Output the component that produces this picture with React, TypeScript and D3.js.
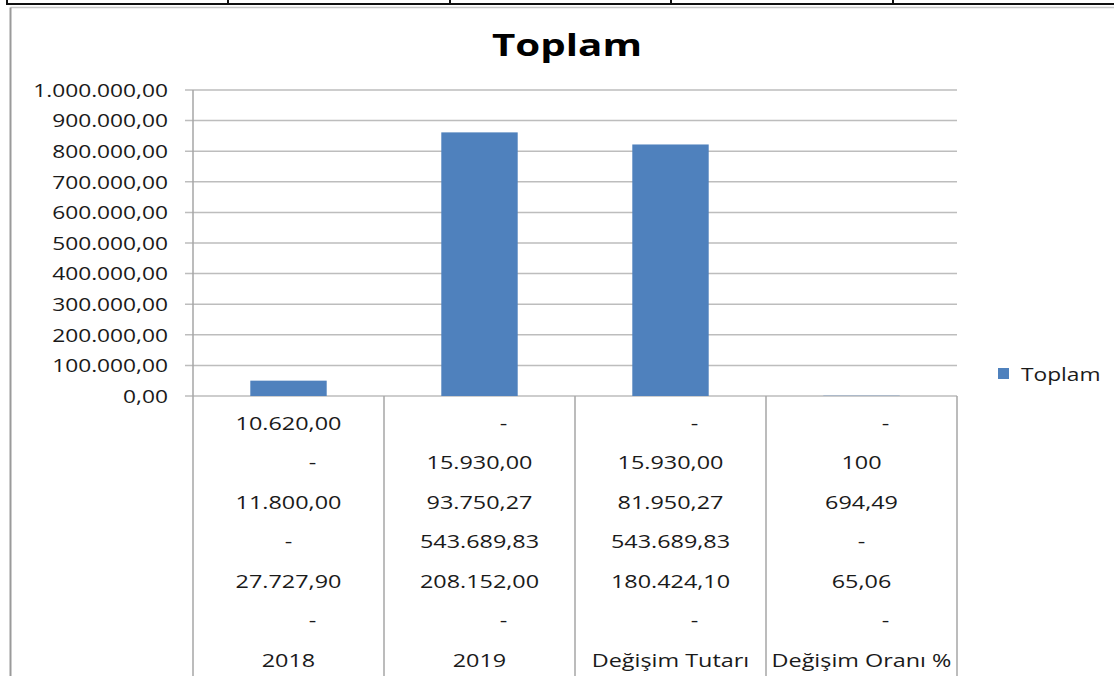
import React, { useEffect, useRef } from "react";
import * as d3 from "d3";

// categories on the x axis (also the bottom row of the table)
const categories = ["2018", "2019", "Değişim Tutarı", "Değişim Oranı %"];
// "Toplam" series (column totals of the table below)
const toplam = [50147.9, 861522.1, 821994.2, 859.55];
const yTicks = [0, 100000, 200000, 300000, 400000, 500000, 600000, 700000, 800000, 900000, 1000000];

// data table under the chart, one array per column
const col2018 = ["10.620,00", "-", "11.800,00", "-", "27.727,90", "-"];
const col2019 = ["-", "15.930,00", "93.750,27", "543.689,83", "208.152,00", "-"];
const colTutar = ["-", "15.930,00", "81.950,27", "543.689,83", "180.424,10", "-"];
const colOran = ["-", "100", "694,49", "-", "65,06", "-"];
// rows where the dash comes from accounting format (dash sits right of centre)
const accountingRows = [true, true, false, false, false, true];

const seriesName = "Toplam";
const titleText = "Toplam";

const W = 1114, H = 676;
const FONT = "'Open Sans', sans-serif";
const SX = 1.3; // source picture is stretched sideways

export default function App() {
  const ref = useRef<SVGSVGElement>(null);

  useEffect(() => {
    const svg = d3.select(ref.current);
    svg.selectAll("*").remove();

    const left = 193, right = 957, top = 90, bottom = 396;
    const trTR = d3.formatLocale({ decimal: ",", thousands: ".", grouping: [3], currency: ["", "₺"] });
    const fmt = trTR.format(",.2f");

    const x = d3.scaleBand<string>().domain(categories).range([left, right]).padding(0);
    const y = d3.scaleLinear().domain([0, 1000000]).range([bottom, top]);
    const bw = x.bandwidth();

    // little helper - text stretched horizontally around its anchor
    const txt = (g: any, tx: number, ty: number, s: string, size: number, anchor: string, weight = "normal", fill = "#1a1a1a") =>
      g.append("text")
        .attr("transform", `translate(${tx},${ty}) scale(${SX},1)`)
        .attr("text-anchor", anchor)
        .attr("dominant-baseline", "central")
        .style("font-family", FONT)
        .style("font-size", size + "px")
        .style("font-weight", weight)
        .attr("fill", fill)
        .text(s);

    // top table remnants (black)
    svg.append("line").attr("x1", 7).attr("x2", W).attr("y1", 4).attr("y2", 4)
      .attr("stroke", "#111").attr("stroke-width", 2);
    [7, 228, 450, 671, 893].forEach(vx => {
      svg.append("line").attr("x1", vx).attr("x2", vx).attr("y1", 0).attr("y2", 5)
        .attr("stroke", "#111").attr("stroke-width", 2);
    });
    // chart frame
    svg.append("line").attr("x1", 10.5).attr("x2", W).attr("y1", 7.5).attr("y2", 7.5)
      .attr("stroke", "#c8c8c8").attr("stroke-width", 1.5);
    svg.append("line").attr("x1", 10.5).attr("x2", 10.5).attr("y1", 7.5).attr("y2", H)
      .attr("stroke", "#9a9a9a").attr("stroke-width", 2);

    // title
    txt(svg, 567, 44, titleText, 31, "middle", "bold", "#000");

    // gridlines + tick stubs
    const grid = svg.append("g");
    yTicks.forEach(t => {
      grid.append("line").attr("x1", left - 8).attr("x2", right)
        .attr("y1", y(t)).attr("y2", y(t))
        .attr("stroke", "#bdbdbd").attr("stroke-width", 1.5);
      txt(grid, 168, y(t), fmt(t), 17.5, "end");
    });

    // bars
    svg.selectAll("rect.bar")
      .data(toplam)
      .join("rect")
      .attr("class", "bar")
      .attr("x", (d, i) => x(categories[i])! + bw * 0.3)
      .attr("width", bw * 0.4)
      .attr("y", d => y(d))
      .attr("height", d => y(0) - y(d))
      .attr("fill", "#4f81bd");

    // y axis line (runs down through the table)
    svg.append("line").attr("x1", left).attr("x2", left).attr("y1", top).attr("y2", H)
      .attr("stroke", "#a6a6a6").attr("stroke-width", 1.5);

    // data table
    const table = svg.append("g");
    categories.forEach((c, i) => {
      const vx = x(c)! + bw;
      table.append("line").attr("x1", vx).attr("x2", vx).attr("y1", bottom).attr("y2", H)
        .attr("stroke", "#a6a6a6").attr("stroke-width", 1.5);
    });
    const cols = [col2018, col2019, colTutar, colOran];
    const rowY = (r: number) => 423 + r * 39.5;
    cols.forEach((col, ci) => {
      const cx = x(categories[ci])! + bw / 2;
      col.forEach((v, r) => {
        const off = v === "-" && accountingRows[r] ? 24 : 0;
        txt(table, cx + off, rowY(r), v, 18, "middle");
      });
      txt(table, cx, rowY(6), categories[ci], 18, "middle");
    });

    // legend
    const lg = svg.append("g");
    lg.append("rect").attr("x", 998).attr("y", 368).attr("width", 11).attr("height", 11).attr("fill", "#4f81bd");
    txt(lg, 1021, 374, seriesName, 17.5, "start");
  }, []);

  return (
    <svg ref={ref} width={W} height={H}
      style={{ position: "absolute", left: 0, top: 0, background: "#fff" }} />
  );
}
